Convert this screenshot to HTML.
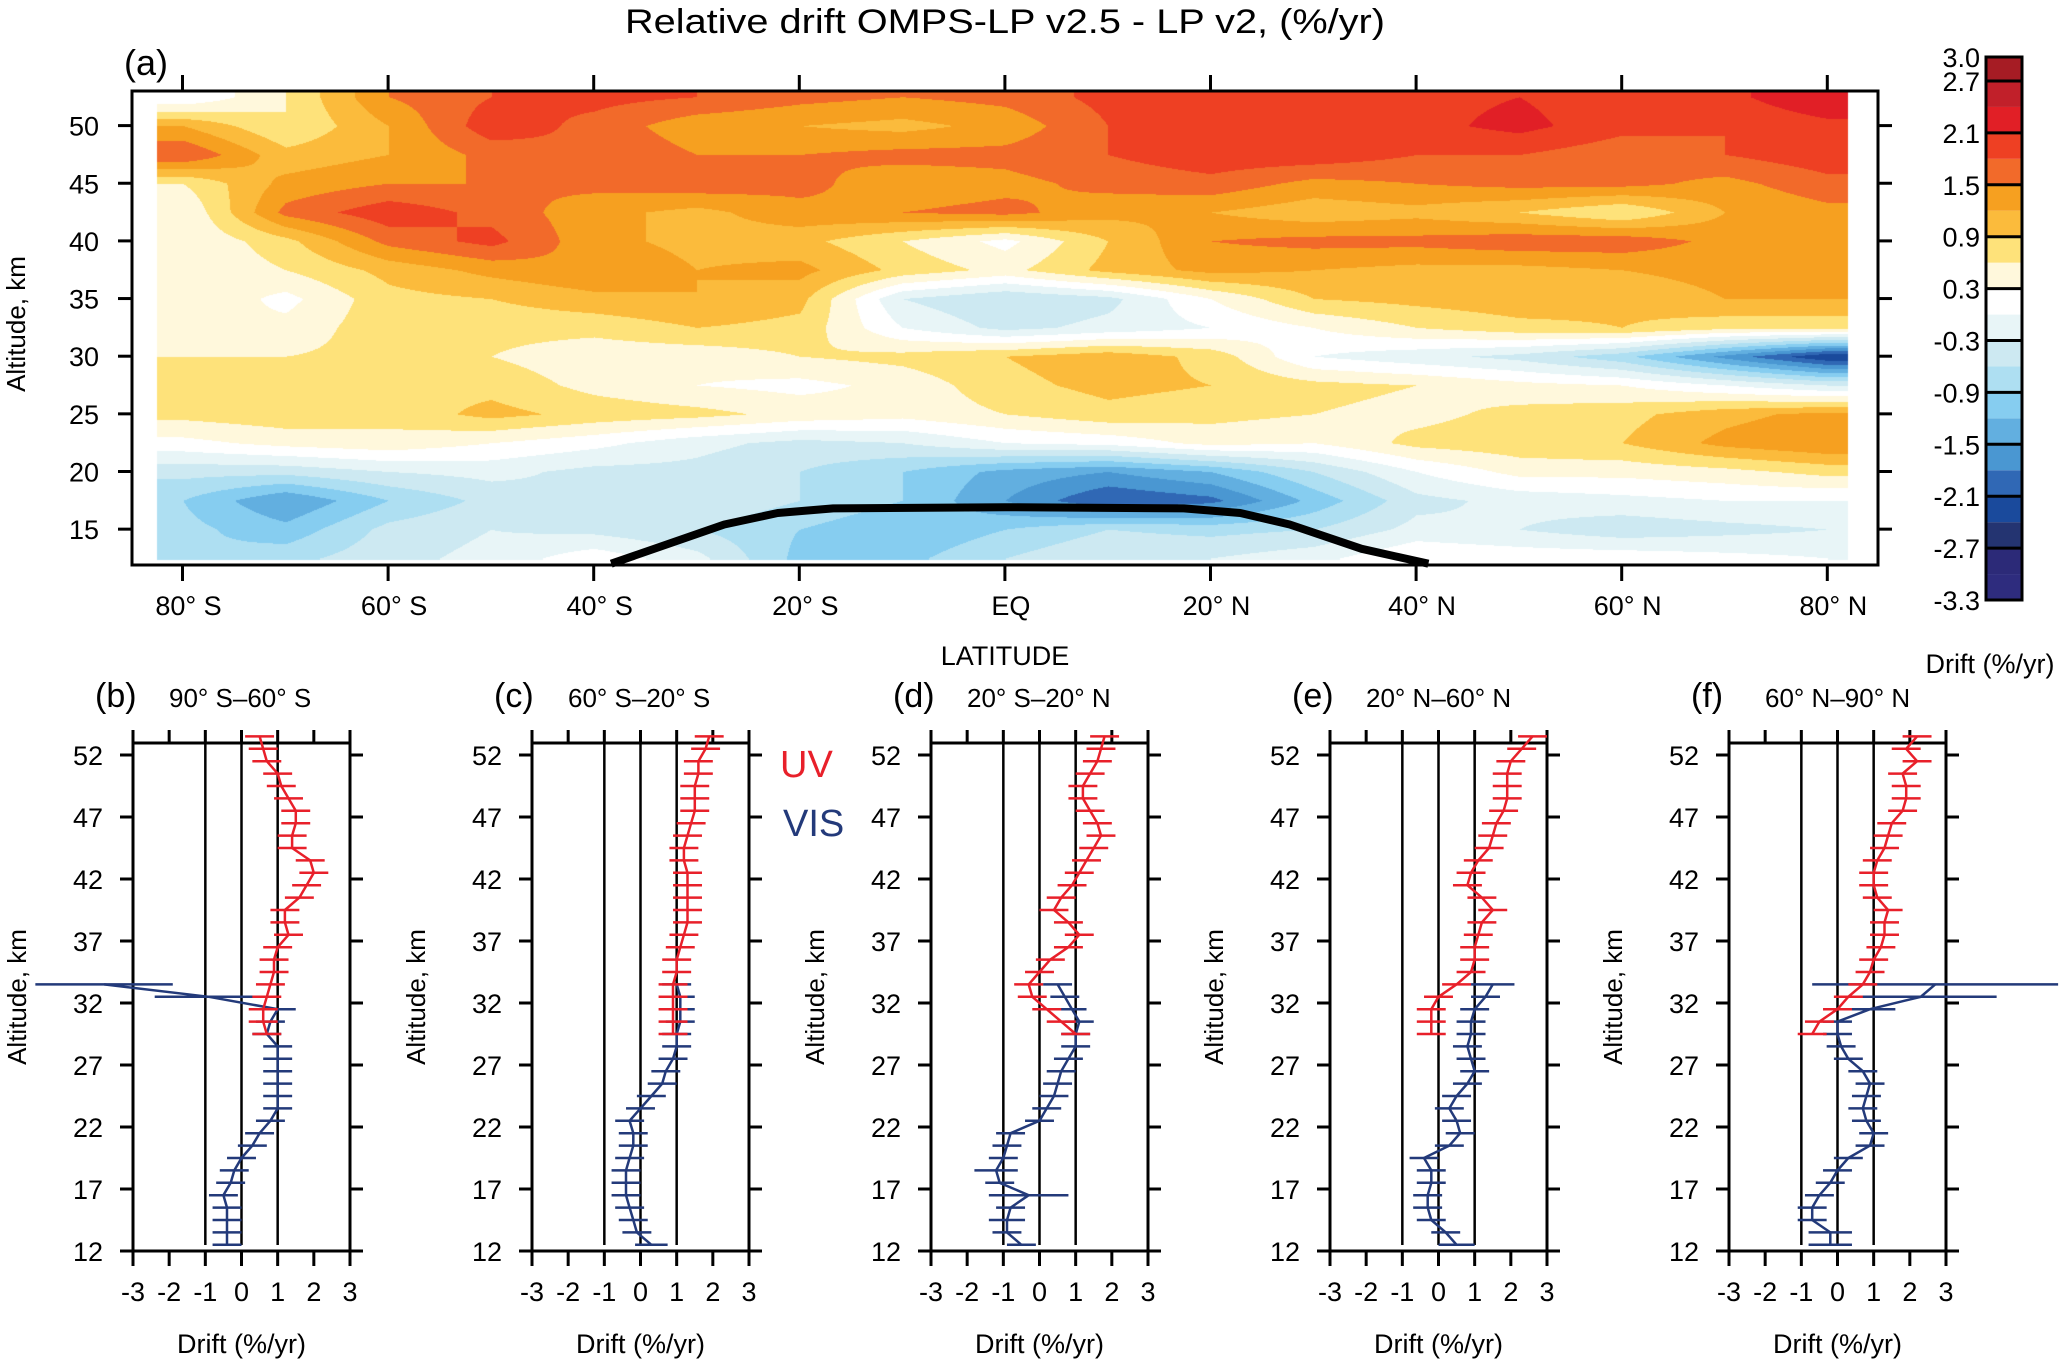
<!DOCTYPE html>
<html><head><meta charset="utf-8">
<style>
html,body{margin:0;padding:0;background:#fff;}
#wrap{position:relative;width:2067px;height:1361px;overflow:hidden;}
#heat{position:absolute;left:0;top:0;}
#svg{position:absolute;left:0;top:0;}
text{font-family:"Liberation Sans",sans-serif;}
</style></head>
<body>
<div id="wrap">
<canvas id="heat" width="2067" height="1361"></canvas>
<svg id="svg" width="2067" height="1361" xmlns="http://www.w3.org/2000/svg"></svg>
</div>
<script>
// ---------- Panel (a) data ----------
const lats = [-80,-70,-60,-50,-40,-30,-20,-10,0,10,20,30,40,50,60,70,80];
const alts = [52.5,50,47.5,45,42.5,40,37.5,35,32.5,30,27.5,25,22.5,20,17.5,15,12.5];
const drift = [
 [0.0,0.6,1.5,1.8,1.9,1.8,1.6,1.5,1.6,1.9,1.9,1.9,2.0,2.1,1.9,2.0,2.4],
 [1.2,0.6,1.2,2.0,1.7,1.3,1.2,1.1,1.3,1.8,1.9,2.0,2.0,2.2,1.9,1.8,2.0],
 [1.8,1.0,1.2,1.6,1.8,1.5,1.5,1.6,1.6,1.8,2.0,2.0,1.8,1.8,1.6,1.8,2.0],
 [0.6,1.3,1.5,1.5,1.6,1.7,1.6,1.3,1.4,1.6,1.7,1.4,1.5,1.6,1.6,1.4,1.7],
 [0.3,1.6,2.0,1.7,1.3,1.1,1.4,1.5,1.6,1.3,1.2,1.0,1.1,0.9,0.6,1.2,1.4],
 [0.3,0.8,1.6,1.9,1.3,1.1,1.0,0.6,0.2,0.9,1.5,1.6,1.6,1.7,1.7,1.4,1.3],
 [0.3,0.6,1.0,1.3,1.5,1.2,1.3,0.8,0.5,1.0,1.3,1.2,1.1,1.1,1.2,1.3,1.5],
 [0.6,0.2,0.8,0.9,1.1,1.2,1.0,-0.3,-0.6,-0.4,0.3,0.9,1.0,1.1,1.0,1.2,1.2],
 [0.3,0.4,0.8,0.7,0.7,0.9,0.8,0.0,-0.4,-0.2,0.0,0.3,0.6,0.8,0.9,0.7,0.7],
 [0.6,0.6,0.7,0.6,0.4,0.4,0.6,0.7,0.9,1.1,0.8,0.0,-0.2,-0.4,-0.8,-1.6,-2.4],
 [0.6,0.6,0.8,0.8,0.5,0.3,0.2,0.4,0.8,1.0,0.9,0.7,0.6,0.4,0.3,0.0,-0.3],
 [0.7,0.8,0.7,1.0,0.8,0.7,0.5,0.4,0.6,0.8,0.7,0.6,0.5,0.7,0.8,1.1,1.3],
 [0.2,0.4,0.5,0.3,0.1,-0.2,-0.4,-0.3,0.0,0.1,0.4,0.3,0.7,0.8,0.9,1.3,1.5],
 [-0.5,-0.5,-0.3,-0.2,-0.4,-0.4,-0.6,-0.9,-1.3,-1.5,-1.2,-0.6,0.0,0.4,0.4,0.5,0.7],
 [-0.9,-1.5,-0.9,-0.5,-0.3,-0.3,-0.6,-0.9,-1.5,-2.1,-1.9,-1.1,-0.4,-0.2,-0.1,0.0,0.0],
 [-0.8,-1.1,-0.5,-0.3,-0.4,-0.6,-0.9,-1.2,-0.9,-0.6,-0.7,-0.6,-0.2,-0.3,-0.5,-0.4,-0.3],
 [-0.9,-0.7,-0.4,-0.2,0.2,-0.2,-1.0,-1.0,-0.6,-0.3,-0.3,-0.1,0.3,0.2,0.2,0.1,0.0]
];
const tropLat = [-38.3,-27.3,-22.1,-16.7,0,17.4,22.9,27.7,34.7,41.2];
const tropAlt = [12.0,15.4,16.4,16.8,16.9,16.8,16.4,15.4,13.3,12.0];
const levels = [-3.3,-3.0,-2.7,-2.4,-2.1,-1.8,-1.5,-1.2,-0.9,-0.6,-0.3,0.0,0.3,0.6,0.9,1.2,1.5,1.8,2.1,2.4,2.7,3.0];
const levelColors = ['#2e2c7e','#2c2a78','#243471','#1a4a9c','#3068b5','#4a97d2','#62afe0','#86cdf0','#aedff2','#cde9f2','#e8f5f7','#ffffff','#fff8dc','#fee27a','#fbbb3c','#f6a020','#f26a2a','#ee4023','#e11f26','#c1202a','#a61c24'];
const cbLabels = ['3.0','2.7','2.1','1.5','0.9','0.3','-0.3','-0.9','-1.5','-2.1','-2.7','-3.3'];
const latTicks = [-80,-60,-40,-20,0,20,40,60,80];
const latTickLabels = ['80° S','60° S','40° S','20° S','EQ','20° N','40° N','60° N','80° N'];
const altTicks = [15,20,25,30,35,40,45,50];

// ---------- Profile panels data ----------
const uvAlts = [53.5,52.5,51.5,50.5,49.5,48.5,47.5,46.5,45.5,44.5,43.5,42.5,41.5,40.5,39.5,38.5,37.5,36.5,35.5,34.5,33.5,32.5,31.5,30.5,29.5];
const visAlts = [33.5,32.5,31.5,30.5,29.5,28.5,27.5,26.5,25.5,24.5,23.5,22.5,21.5,20.5,19.5,18.5,17.5,16.5,15.5,14.5,13.5,12.5];
const uvB = [0.5,0.6,0.7,1.0,1.1,1.3,1.5,1.5,1.4,1.4,1.9,2.0,1.8,1.6,1.2,1.2,1.3,1.0,0.9,0.9,0.8,0.7,0.6,0.6,0.7];
const visB = [-3.8,-0.9,1.0,0.8,0.7,1.0,1.0,1.0,1.0,1.0,1.0,0.8,0.5,0.3,0.0,-0.2,-0.3,-0.5,-0.4,-0.4,-0.4,-0.4];
const visErrB = [1.9,1.5,0.5,0.4,0.4,0.4,0.4,0.4,0.4,0.4,0.4,0.4,0.4,0.4,0.4,0.4,0.4,0.4,0.4,0.4,0.4,0.4];
const uvC = [1.9,1.8,1.6,1.6,1.5,1.5,1.5,1.4,1.3,1.2,1.2,1.3,1.3,1.3,1.3,1.3,1.2,1.1,1.0,1.0,0.9,0.9,0.9,0.9,0.9];
const visC = [1.0,1.1,1.1,1.1,1.0,1.0,0.9,0.7,0.6,0.3,0.0,-0.3,-0.2,-0.2,-0.3,-0.4,-0.4,-0.4,-0.3,-0.2,-0.1,0.3];
const visErrC = [0.4,0.4,0.4,0.4,0.4,0.4,0.4,0.4,0.4,0.4,0.4,0.4,0.4,0.4,0.4,0.4,0.4,0.4,0.4,0.4,0.4,0.45];
const uvD = [1.8,1.7,1.6,1.4,1.2,1.2,1.4,1.6,1.7,1.5,1.3,1.1,0.9,0.6,0.4,0.8,1.1,0.8,0.3,0.0,-0.3,-0.2,0.2,0.6,1.0];
const visD = [0.5,0.7,0.9,1.1,1.0,1.0,0.8,0.6,0.5,0.4,0.2,0.0,-0.8,-0.9,-1.0,-1.2,-1.1,-0.3,-0.8,-0.9,-0.9,-0.5];
const visErrD = [0.4,0.4,0.4,0.4,0.4,0.4,0.4,0.4,0.4,0.4,0.4,0.4,0.4,0.4,0.4,0.6,0.4,1.1,0.4,0.5,0.4,0.4];
const uvE = [2.6,2.3,2.0,1.9,1.9,1.9,1.8,1.6,1.5,1.4,1.1,0.9,0.8,1.2,1.5,1.2,1.1,1.0,1.0,0.9,0.5,0.0,-0.2,-0.2,-0.2];
const visE = [1.5,1.3,1.0,0.9,0.9,0.8,0.9,1.0,0.8,0.5,0.3,0.5,0.6,0.3,-0.4,-0.2,-0.2,-0.3,-0.3,-0.2,0.2,0.5];
const visErrE = [0.6,0.4,0.4,0.4,0.4,0.4,0.4,0.4,0.4,0.4,0.4,0.4,0.4,0.4,0.4,0.4,0.4,0.4,0.4,0.4,0.4,0.5];
const uvF = [2.2,1.9,2.2,1.8,1.9,1.9,1.8,1.5,1.4,1.3,1.1,1.0,1.0,1.1,1.4,1.3,1.3,1.2,1.0,0.9,0.7,0.3,0.0,-0.5,-0.7];
const visF = [2.7,2.3,0.9,0.0,0.0,0.1,0.3,0.7,0.9,0.8,0.7,0.8,1.0,0.9,0.3,0.0,-0.2,-0.5,-0.7,-0.7,-0.2,-0.2];
const visErrF = [3.4,2.1,0.7,0.4,0.4,0.4,0.4,0.4,0.4,0.4,0.4,0.4,0.4,0.4,0.4,0.4,0.4,0.4,0.4,0.4,0.6,0.6];
const uvErr = [0.4,0.4,0.4,0.4,0.4,0.4,0.4,0.4,0.4,0.4,0.4,0.4,0.4,0.4,0.4,0.4,0.4,0.4,0.4,0.4,0.4,0.4,0.4,0.4,0.4];
const driftTicks = [-3,-2,-1,0,1,2,3];
const profAltTicks = [12,17,22,27,32,37,42,47,52];
const panelLetters = ['(b)','(c)','(d)','(e)','(f)'];
const panelRanges = ['90° S–60° S','60° S–20° S','20° S–20° N','20° N–60° N','60° N–90° N'];

const NS='http://www.w3.org/2000/svg';
const svg=document.getElementById('svg');
function el(tag,attrs,parent){const e=document.createElementNS(NS,tag);for(const k in attrs)e.setAttribute(k,attrs[k]);(parent||svg).appendChild(e);return e;}
function txt(s,attrs,parent){if(!attrs.fill)attrs.fill='#000';const t=el('text',attrs,parent);t.textContent=s;return t;}

const BX0=132,BX1=1878,BY0=91,BY1=565;
function xLat(l){return 182.5+(l+80)*10.28;}
function yAlt(a){return 125.6+(50-a)*11.53;}
function latOfX(x){return (x-182.5)/10.28-80;}
function altOfY(y){return 50-(y-125.6)/11.53;}

function colorFor(v){
  for(let i=0;i<levelColors.length;i++){ if(v<levels[i+1]) return levelColors[i]; }
  return levelColors[levelColors.length-1];
}
function hex2rgb(h){return [parseInt(h.substr(1,2),16),parseInt(h.substr(3,2),16),parseInt(h.substr(5,2),16)];}
function interp(lat,alt){
  const li=Math.max(0,Math.min(lats.length-1.0001,(lat-lats[0])/10));
  const ai=Math.max(0,Math.min(alts.length-1.0001,(alts[0]-alt)/2.5));
  const i=Math.floor(li),j=Math.floor(ai),fx=li-i,fy=ai-j;
  const v00=drift[j][i],v01=drift[j][i+1],v10=drift[j+1][i],v11=drift[j+1][i+1];
  return (v00*(1-fx)+v01*fx)*(1-fy)+(v10*(1-fx)+v11*fx)*fy;
}
(function(){
  const c=document.getElementById('heat');const ctx=c.getContext('2d');
  const x0=xLat(-82.5),x1=xLat(82.0),y0=BY0,y1=yAlt(12.3);
  const w=Math.round(x1-x0),h=Math.round(y1-y0);
  const img=ctx.createImageData(w,h);
  const cache={};
  for(let py=0;py<h;py++){const alt=altOfY(y0+py);for(let px=0;px<w;px++){
    const v=interp(latOfX(x0+px),alt);const col=colorFor(v);
    const rgb=cache[col]||(cache[col]=hex2rgb(col));
    const k=(py*w+px)*4;img.data[k]=rgb[0];img.data[k+1]=rgb[1];img.data[k+2]=rgb[2];img.data[k+3]=255;}}
  ctx.putImageData(img,Math.round(x0),Math.round(y0));
})();

let t=txt('Relative drift OMPS-LP v2.5 - LP v2, (%/yr)',{x:1005,y:33,'text-anchor':'middle','font-size':34,textLength:760,lengthAdjust:'spacingAndGlyphs'});

t=txt('(a)',{x:124,y:75,'font-size':36});


let pts=tropLat.map((l,i)=>xLat(l).toFixed(1)+','+yAlt(tropAlt[i]).toFixed(1)).join(' ');
let pl=el('polyline',{points:pts,fill:'none',stroke:'#000','stroke-width':8,'stroke-linejoin':'round'});


let r=el('rect',{x:BX0,y:BY0,width:BX1-BX0,height:BY1-BY0,fill:'none',stroke:'#000','stroke-width':3});

latTicks.forEach((l,i)=>{
  const x=xLat(l);
  el('line',{x1:x,y1:BY0,x2:x,y2:BY0-16,stroke:'#000','stroke-width':3});
  el('line',{x1:x,y1:BY1,x2:x,y2:BY1+16,stroke:'#000','stroke-width':3});
  const tt=txt(latTickLabels[i],{x:x+6,y:615,'text-anchor':'middle','font-size':27});
  
});
altTicks.forEach(a=>{
  const y=yAlt(a);
  el('line',{x1:BX0,y1:y,x2:BX0-14,y2:y,stroke:'#000','stroke-width':3});
  el('line',{x1:BX1,y1:y,x2:BX1+14,y2:y,stroke:'#000','stroke-width':3});
  const tt=txt(String(a),{x:99,y:y+10,'text-anchor':'end','font-size':27});
  
});
t=txt('LATITUDE',{x:1005,y:665,'text-anchor':'middle','font-size':27});

t=txt('Altitude, km',{x:0,y:0,'text-anchor':'middle','font-size':26,transform:'translate(25,324) rotate(-90)'});


const CB0=57,CB1=600,CBX=1986,CBW=36;
const binH=(CB1-CB0-24)/20;
function yLev(v){ if(v>=2.7) return CB0+(3.0-v)/0.3*24; return CB0+24+(2.7-v)/0.3*binH; }
for(let i=0;i<levelColors.length;i++){
  const ya=yLev(levels[i+1]),yb=yLev(levels[i]);
  const rr=el('rect',{x:CBX,y:ya,width:CBW,height:yb-ya,fill:levelColors[i]});
  
}
el('rect',{x:CBX,y:CB0,width:CBW,height:CB1-CB0,fill:'none',stroke:'#000','stroke-width':3});
cbLabels.forEach(s=>{
  const v=parseFloat(s),y=yLev(v);
  el('line',{x1:CBX,y1:y,x2:CBX+CBW,y2:y,stroke:'#000','stroke-width':3});
  const tt=txt(s,{x:1980,y:y+10,'text-anchor':'end','font-size':27});
  
});
t=txt('Drift (%/yr)',{x:1990,y:673,'text-anchor':'middle','font-size':27});


const uvSeries=[uvB,uvC,uvD,uvE,uvF];
const visSeries=[visB,visC,visD,visE,visF];
const visErrs=[visErrB,visErrC,visErrD,visErrE,visErrF];
const PY0=743,PY1=1251,PW=217;
function pAlt(a){return 755+(52-a)*12.4;}
for(let p=0;p<5;p++){
  const X0=133+399*p;
  const g=el('g',{});
  
  const xD=d=>X0+(d+3)*PW/6;
  [-1,0,1].forEach(d=>{const l=el('line',{x1:xD(d),y1:PY0,x2:xD(d),y2:PY1-6,stroke:'#000','stroke-width':2.5},g);});
  const fr=el('rect',{x:X0,y:PY0,width:PW,height:PY1-PY0,fill:'none',stroke:'#000','stroke-width':3},g);
  
  driftTicks.forEach(d=>{
    el('line',{x1:xD(d),y1:PY1,x2:xD(d),y2:PY1+15,stroke:'#000','stroke-width':3},g);
    el('line',{x1:xD(d),y1:PY0,x2:xD(d),y2:PY0-13,stroke:'#000','stroke-width':3},g);
    const tt=txt(String(d),{x:xD(d),y:1301,'text-anchor':'middle','font-size':27},g);
    
  });
  profAltTicks.forEach(a=>{
    const y=pAlt(a);
    el('line',{x1:X0,y1:y,x2:X0-13,y2:y,stroke:'#000','stroke-width':3},g);
    el('line',{x1:X0+PW,y1:y,x2:X0+PW+13,y2:y,stroke:'#000','stroke-width':3},g);
    const tt=txt(String(a),{x:X0-30,y:y+10,'text-anchor':'end','font-size':27},g);
    
  });
  let tt=txt(panelLetters[p],{x:X0-38,y:707,'font-size':34},g);
  
  tt=txt(panelRanges[p],{x:X0+36,y:707,'font-size':26},g);
  
  tt=txt('Drift (%/yr)',{x:X0+PW/2,y:1353,'text-anchor':'middle','font-size':27},g);
  
  tt=txt('Altitude, km',{x:0,y:0,'text-anchor':'middle','font-size':26,transform:'translate('+(X0-107)+',997) rotate(-90)'},g);
  
  const draw=(vals,errs,altsArr,col,name)=>{
    const sg=el('g',{},g);
    
    const ln=el('polyline',{points:vals.map((v,i)=>xD(v).toFixed(1)+','+pAlt(altsArr[i]).toFixed(1)).join(' '),fill:'none',stroke:col,'stroke-width':2.5},sg);
    
    vals.forEach((v,i)=>{
      const y=pAlt(altsArr[i]);
      const b=el('line',{x1:xD(v-errs[i]),y1:y,x2:xD(v+errs[i]),y2:y,stroke:col,'stroke-width':2.5},sg);
      
    });
  };
  draw(visSeries[p],visErrs[p],visAlts,'#233a7a','vis-profile');
  draw(uvSeries[p],uvErr,uvAlts,'#e8202a','uv-profile');
}
t=txt('UV',{x:780,y:777,'font-size':38,fill:'#e8202a'});

t=txt('VIS',{x:783,y:836,'font-size':38,fill:'#233a7a'});

</script>
</body></html>
